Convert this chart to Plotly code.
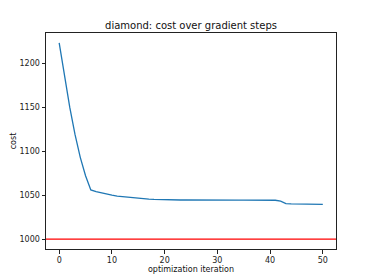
import plotly.graph_objects as go

iterations = list(range(51))
cost = [1223, 1186, 1150, 1119, 1093, 1072, 1056, 1054, 1052.5, 1051,
        1050, 1049, 1048.3, 1047.6, 1047, 1046.5, 1046, 1045.6, 1045.3, 1045,
        1044.8, 1044.6, 1044.5, 1044.5, 1044.5, 1044.4, 1044.4, 1044.4, 1044.4, 1044.4,
        1044.4, 1044.3, 1044.3, 1044.3, 1044.3, 1044.3, 1044.3, 1044.3, 1044.3, 1044.2,
        1044.2, 1044.2, 1043.2, 1040.4, 1040.1, 1040.0, 1039.9, 1039.8, 1039.7, 1039.6,
        1039.5]
target_cost = 1000
x_ticks = [0, 10, 20, 30, 40, 50]
y_ticks = [1000, 1050, 1100, 1150, 1200]

fig = go.Figure()
fig.add_trace(go.Scatter(x=iterations, y=cost, mode="lines",
                         line=dict(color="#1f77b4", width=1.3), showlegend=False,
                         hoverinfo="skip"))
fig.add_shape(type="line", xref="paper", x0=0, x1=1, yref="y", y0=target_cost, y1=target_cost,
              line=dict(color="red", width=1.3))

axis_common = dict(showline=True, linecolor="#222", linewidth=1, mirror=True,
                   ticks="outside", ticklen=3.5, tickcolor="#222", tickwidth=1,
                   showgrid=False, zeroline=False, automargin=False,
                   tickfont=dict(family="DejaVu Sans", size=8, color="#222"))

fig.update_layout(
    width=374, height=280,
    margin=dict(l=46, r=38, t=33, b=31),
    paper_bgcolor="white", plot_bgcolor="white",
    title=dict(text="diamond: cost over gradient steps", x=(46 + 336) / 2 / 374, xanchor="center",
               y=1 - 25 / 280, yanchor="middle", automargin=False,
               font=dict(family="DejaVu Sans", size=10, color="#111")),
    xaxis=dict(range=[-2.5, 52.5], tickvals=x_ticks,
               title=dict(text="optimization iteration", standoff=2,
                          font=dict(family="DejaVu Sans", size=8, color="#111")),
               **axis_common),
    yaxis=dict(range=[988.8, 1234.3], tickvals=y_ticks,
               title=dict(text="cost", standoff=1,
                          font=dict(family="DejaVu Sans", size=8, color="#111")),
               **axis_common),
)

fig.write_html("out.html", config={"displayModeBar": False, "staticPlot": True},
               post_script="document.body.style.margin='0';document.body.style.overflow='hidden';")
